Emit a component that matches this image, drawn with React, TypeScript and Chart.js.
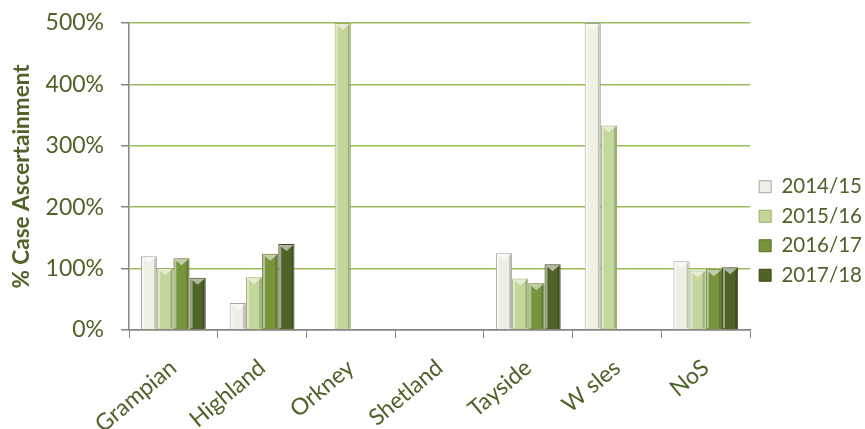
import React, { useEffect, useRef } from "react";
import { Chart, registerables } from "chart.js";

Chart.register(...registerables);

const categories = ["Grampian", "Highland", "Orkney", "Shetland", "Tayside", "W sles", "NoS"];
const seriesNames = ["2014/15", "2015/16", "2016/17", "2017/18"];
const v2014 = [120, 44, null, null, 125, 500, 112];
const v2015 = [101, 86, 500, null, 84, 333, 97];
const v2016 = [117, 124, null, null, 76, null, 99];
const v2017 = [85, 140, null, null, 107, null, 102];
const yTicks = [0, 100, 200, 300, 400, 500];

const fills = ["#edf1e3", "#c3d69b", "#77933c", "#4f6228"];
const borders = ["#a6a6a6", "#98b060", "#5a7229", "#3a4a1c"];
const textColor = "#4f6228";
const font = "Lato, 'Open Sans', sans-serif";

const bevelPlugin = {
  id: "bevel",
  afterDatasetsDraw(chart: any) {
    const ctx = chart.ctx;
    chart.data.datasets.forEach((_: any, di: number) => {
      const meta = chart.getDatasetMeta(di);
      meta.data.forEach((el: any) => {
        if (el.skip || el.y == null || isNaN(el.y)) return;
        const h = el.base - el.y;
        if (h < 2) return;
        const l = el.x - el.width / 2;
        const r = el.x + el.width / 2;
        ctx.save();
        ctx.fillStyle = "rgba(255,255,255,0.45)";
        ctx.fillRect(l + 1, el.y + 1, 2, h - 2);
        ctx.fillStyle = "rgba(0,0,0,0.18)";
        ctx.fillRect(r - 3, el.y + 1, 2, h - 2);
        ctx.beginPath();
        ctx.moveTo(l + 1, el.y + 1);
        ctx.lineTo(r - 1, el.y + 1);
        ctx.lineTo(el.x, el.y + Math.min(7, h / 2));
        ctx.closePath();
        ctx.fillStyle = "rgba(255,255,255,0.55)";
        ctx.fill();
        ctx.restore();
      });
    });
  },
};

export default function App() {
  const ref = useRef<HTMLCanvasElement>(null);
  useEffect(() => {
    document.body.style.margin = "0";
    const series = [v2014, v2015, v2016, v2017];
    const chart = new Chart(ref.current!, {
      type: "bar",
      data: {
        labels: categories,
        datasets: seriesNames.map((name, i) => ({
          label: name,
          data: series[i],
          backgroundColor: fills[i],
          borderColor: borders[i],
          borderWidth: 1,
          categoryPercentage: 0.73,
          barPercentage: 1,
        })),
      },
      options: {
        animation: false,
        responsive: false,
        maintainAspectRatio: false,
        layout: { padding: { top: 23, left: 0, right: -7, bottom: 0 } },
        plugins: {
          tooltip: { enabled: false },
          legend: {
            position: "right",
            align: "center",
            title: { display: true, text: " ", font: { size: 5 }, padding: 2 },
            labels: {
              boxWidth: 12,
              boxHeight: 12,
              padding: 9,
              color: textColor,
              font: { family: font, size: 20.5 },
            },
          },
        },
        scales: {
          x: {
            afterFit: (s: any) => {
              s.height = 99;
            },
            grid: {
              drawOnChartArea: false,
              offset: true,
              tickLength: 8,
              tickColor: "#868686",
              color: "#868686",
            },
            border: { color: "#868686", width: 1.5 },
            ticks: {
              color: textColor,
              font: { family: font, size: 23 },
              minRotation: 40,
              maxRotation: 40,
              padding: 16,
            },
          },
          y: {
            min: 0,
            max: 500,
            afterFit: (s: any) => {
              s.width = 129;
              s.paddingTop = 0;
              s.paddingBottom = 0;
            },
            afterBuildTicks: (s: any) => {
              s.ticks = yTicks.map((v) => ({ value: v }));
            },
            grid: {
              color: (c: any) => (c.tick && c.tick.value === 0 ? "#868686" : "#9bbb59"),
              lineWidth: 1.5,
              tickLength: 8,
              tickColor: "#868686",
            },
            border: { color: "#868686", width: 1.5 },
            ticks: {
              color: textColor,
              font: { family: font, size: 23 },
              padding: 17,
              callback: (v: any) => v + "%",
            },
            title: {
              display: true,
              text: "% Case Ascertainment",
              color: textColor,
              font: { family: font, size: 22.5, weight: "bold" },
              padding: { top: 8, bottom: 0 },
            },
          },
        },
      },
      plugins: [bevelPlugin],
    });
    return () => chart.destroy();
  }, []);
  return (
    <div style={{ position: "relative", width: 865, height: 429 }}>
      <canvas ref={ref} width={865} height={429} style={{ width: 865, height: 429 }} />
    </div>
  );
}
